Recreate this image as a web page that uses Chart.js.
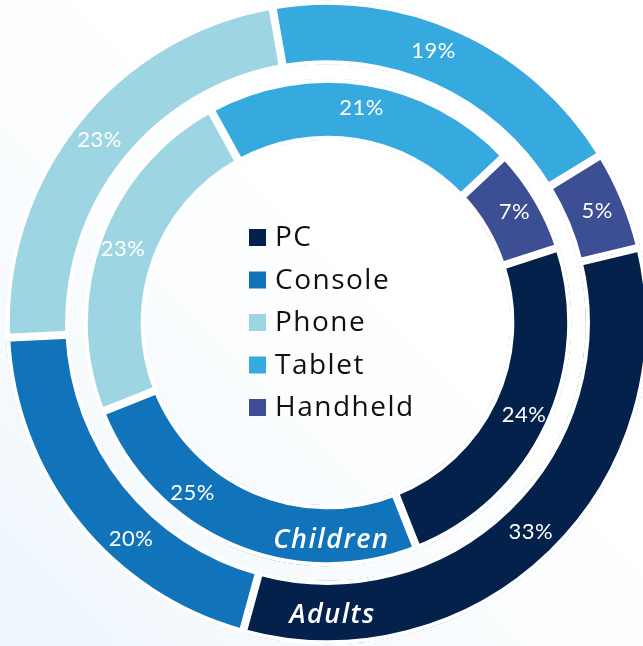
<!DOCTYPE html>
<html>
<head>
<meta charset="utf-8">
<script src="https://cdn.jsdelivr.net/npm/chart.js@4.4.0/dist/chart.umd.min.js"></script>
<style>
  html, body { margin: 0; padding: 0; }
  body {
    width: 643px; height: 646px; overflow: hidden;
    background: linear-gradient(45deg, #eef6fc 0%, #f9fcfe 35%, #ffffff 60%);
  }
  #wrap { position: relative; width: 643px; height: 646px; }
</style>
</head>
<body>
<div id="wrap"><canvas id="chart"></canvas></div>
<script>
const categories = ['PC', 'Console', 'Phone', 'Tablet', 'Handheld'];
const adultsShare = [33, 20, 23, 19, 5];
const childrenShare = [24, 25, 23, 21, 7];
const ringNames = ['Adults', 'Children'];
const sliceColors = ['#03214a', '#1174ba', '#9dd6e2', '#36a9df', '#3c4e94'];

// small angle nudges (degrees) so the console labels clear the ring names
const labelNudge = [[0, -9, 0, -3, 0], [0, 15, 0, 0, 0]];
const labelLift = [2, 4];

const ringText = {
  id: 'ringText',
  afterDatasetsDraw(chart) {
    const ctx = chart.ctx;
    ctx.save();
    ctx.textAlign = 'center';
    ctx.textBaseline = 'middle';
    ctx.fillStyle = '#ffffff';
    [0, 2].forEach((dsIndex, ring) => {
      const meta = chart.getDatasetMeta(dsIndex);
      const values = chart.data.datasets[dsIndex].data;
      let cx = 0, cy = 0, rMid = 0;
      meta.data.forEach((arc, i) => {
        const p = arc.getProps(['x', 'y', 'startAngle', 'endAngle', 'innerRadius', 'outerRadius']);
        cx = p.x; cy = p.y;
        rMid = (p.innerRadius + p.outerRadius) / 2;
        const a = (p.startAngle + p.endAngle) / 2 + labelNudge[ring][i] * Math.PI / 180;
        const r = rMid + labelLift[ring];
        ctx.font = '400 22px Lato, "Open Sans", sans-serif';
        ctx.letterSpacing = '0.5px';
        ctx.fillText(values[i] + '%', cx + Math.cos(a) * r, cy + Math.sin(a) * r);
      });
      // ring name at the bottom of the ring
      const a = 89 * Math.PI / 180;
      const r = rMid + (ring === 0 ? 2.5 : 5);
      ctx.font = 'italic 600 27px "Open Sans", Lato, sans-serif';
      ctx.letterSpacing = '1.5px';
      ctx.fillText(ringNames[ring], cx + Math.cos(a) * r, cy + Math.sin(a) * r);
    });
    ctx.restore();
  },
  afterDraw(chart) {
    // legend in the hole
    const ctx = chart.ctx;
    const arc = chart.getDatasetMeta(0).data[0];
    const cx = arc.x, cy = arc.y;
    const rowGap = 42.5;
    const left = cx - 78.5;
    const top = cy - rowGap * 2;
    ctx.save();
    ctx.textBaseline = 'middle';
    ctx.textAlign = 'left';
    ctx.font = '28px "Open Sans", sans-serif';
    ctx.letterSpacing = '1.5px';
    chart.data.labels.forEach((lab, i) => {
      const y = top + i * rowGap;
      ctx.fillStyle = sliceColors[i];
      ctx.fillRect(left, y - 8.5, 17, 17);
      ctx.fillStyle = '#111111';
      ctx.fillText(lab, left + 26, y + 1);
    });
    ctx.restore();
  }
};

const arcStyle = {
  backgroundColor: sliceColors,
  borderColor: '#ffffff',
  borderWidth: 4,
  borderAlign: 'inner'
};

new Chart(document.getElementById('chart'), {
  type: 'doughnut',
  data: {
    labels: categories,
    datasets: [
      Object.assign({ label: ringNames[0], data: adultsShare, rotation: 76.5, weight: 64 }, arcStyle),
      { label: 'gap', data: [1], backgroundColor: 'rgba(0,0,0,0)', borderWidth: 0, weight: 14 },
      Object.assign({ label: ringNames[1], data: childrenShare, rotation: 72, weight: 61.5 }, arcStyle)
    ]
  },
  options: {
    responsive: true,
    maintainAspectRatio: false,
    animation: false,
    radius: 322,
    cutout: '56.68%',
    layout: { padding: { left: 12, right: 0, top: 0, bottom: 1 } },
    plugins: {
      legend: { display: false },
      tooltip: { enabled: false }
    }
  },
  plugins: [ringText]
});
</script>
</body>
</html>
